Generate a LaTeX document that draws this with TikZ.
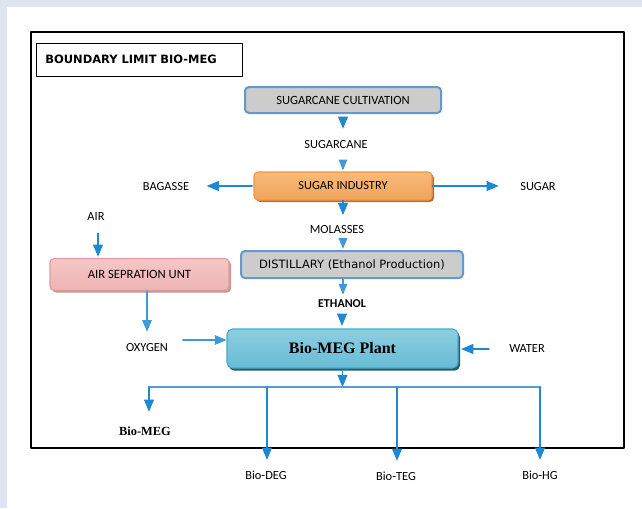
\documentclass[tikz,border=0pt]{standalone}
\usepackage{fontspec}
\setmainfont{Carlito}
\newfontfamily\verd{DejaVu Sans}
\newfontfamily\tnr{Liberation Serif}
\usetikzlibrary{arrows}
\usetikzlibrary{shadows}
\definecolor{bgpanel}{RGB}{222,228,242}
\definecolor{flowblue}{RGB}{30,136,208}
\definecolor{busblue}{RGB}{91,155,213}
\definecolor{boxgray}{RGB}{204,204,204}
\definecolor{edgeblue}{RGB}{100,152,210}
\definecolor{orangetop}{RGB}{249,186,120}
\definecolor{orangemid}{RGB}{243,152,66}
\definecolor{orangebot}{RGB}{240,164,92}
\definecolor{orangeedge}{RGB}{240,150,70}
\definecolor{orangeshade}{RGB}{186,112,44}
\definecolor{pinktop}{RGB}{246,198,198}
\definecolor{pinkmid}{RGB}{230,154,156}
\definecolor{pinkbot}{RGB}{238,180,180}
\definecolor{pinkedge}{RGB}{224,156,156}
\definecolor{pinkshade}{RGB}{196,150,150}
\definecolor{tealtop}{RGB}{140,206,224}
\definecolor{tealmid}{RGB}{76,172,202}
\definecolor{tealbot}{RGB}{104,188,214}
\definecolor{tealedge}{RGB}{72,170,200}
\definecolor{tealshade}{RGB}{36,94,110}

\begin{document}
\begin{tikzpicture}[line cap=round,line join=round,>=triangle 45,x=0.75pt,y=-0.75pt,
    flow/.style={->,color=flowblue,line width=1.1pt},
    thinflow/.style={->,color=flowblue!85,line width=0.8pt},
    lbl/.style={inner sep=1pt,font=\fontsize{9.3}{11}\selectfont},
    graybox/.style={draw=edgeblue,line width=1.5pt,fill=boxgray,rounded corners=3pt,
      inner sep=0pt,font=\fontsize{9.4}{11}\selectfont},
    orangebox/.style={draw=orangeedge,line width=0.8pt,rounded corners=3pt,inner sep=0pt,
      top color=orangetop,middle color=orangemid,bottom color=orangebot,
      drop shadow={shadow xshift=1.5pt,shadow yshift=-1.5pt,fill=orangeshade,opacity=1},
      font=\fontsize{9.3}{11}\selectfont},
    pinkbox/.style={draw=pinkedge,line width=0.8pt,rounded corners=3pt,inner sep=0pt,
      top color=pinktop,middle color=pinkmid,bottom color=pinkbot,
      drop shadow={shadow xshift=1.5pt,shadow yshift=-1.5pt,fill=pinkshade,opacity=1},
      font=\fontsize{9.5}{11}\selectfont},
    tealbox/.style={draw=tealedge,line width=0.8pt,rounded corners=4pt,inner sep=0pt,
      top color=tealtop,middle color=tealmid,bottom color=tealbot,
      drop shadow={shadow xshift=1.5pt,shadow yshift=-2pt,fill=tealshade,opacity=1},
      font=\tnr\bfseries\fontsize{12}{14}\selectfont}]
  % page and boundary limit
  \fill[bgpanel] (0,0) rectangle (642,508);
  \fill[white] (7,7) rectangle (642,508);
  \draw[line width=1.6pt] (31,32) rectangle (624,448);
  \node[draw,line width=0.6pt,anchor=west,text width=141pt,align=left,inner xsep=6.75pt,
    minimum height=24.75pt,font=\verd\bfseries\fontsize{8.6}{10}\selectfont] (title) at (36,59.5) {BOUNDARY LIMIT BIO-MEG};
  % process units
  \node[graybox,minimum width=147pt,minimum height=19.5pt] (cult) at (343,100) {SUGARCANE CULTIVATION};
  \node[orangebox,minimum width=133.5pt,minimum height=21pt] (sugind) at (343,186) {SUGAR INDUSTRY};
  \node[graybox,minimum width=166.5pt,minimum height=20.25pt,font=\verd\fontsize{8.6}{10}\selectfont] (distil) at (352,264.5) {DISTILLARY (Ethanol Production)};
  \node[pinkbox,minimum width=134.25pt,minimum height=24pt] (airsep) at (139.5,274.5) {AIR SEPRATION UNT};
  \node[tealbox,minimum width=173.25pt,minimum height=29.25pt] (megplant) at (342.5,348.5) {Bio-MEG Plant};
  % streams
  \node[lbl] (sugarcane) at (336,145) {SUGARCANE};
  \node[lbl] (bagasse) at (166,187) {BAGASSE};
  \node[lbl] (sugar) at (538,187) {SUGAR};
  \node[lbl] (molasses) at (337,230) {MOLASSES};
  \node[lbl,font=\bfseries\fontsize{9}{11}\selectfont] (ethanol) at (342,304) {ETHANOL};
  \node[lbl] (air) at (96,217) {AIR};
  \node[lbl] (oxygen) at (147,348) {OXYGEN};
  \node[lbl] (water) at (527,349) {WATER};
  \node[lbl,font=\tnr\bfseries\fontsize{9.3}{11}\selectfont] (biomeg) at (145,431) {Bio-MEG};
  \node[lbl] (biodeg) at (266,475) {Bio-DEG};
  \node[lbl] (bioteg) at (396,476) {Bio-TEG};
  \node[lbl] (biohg) at (540,475) {Bio-HG};
  \coordinate (tapmeg) at (149,387);
  \coordinate (tapdeg) at (267,387);
  \coordinate (tapteg) at (397,387);
  \coordinate (taphg) at (540,387);
  % connectors
  \draw[flow,shorten <=3pt,shorten >=8pt] (cult.south) -- (cult.south |- sugarcane.north);
  \draw[thinflow,shorten <=8pt,shorten >=1pt] (cult.south |- sugarcane.south) -- (cult.south |- sugind.north);
  \draw[flow,shorten <=1pt,shorten >=12pt] (sugind.west) -- (sugind.west -| bagasse.east);
  \draw[flow,shorten >=15pt] (sugind.east) -- (sugind.east -| sugar.west);
  \draw[flow,shorten >=7pt] (sugind.south -| cult.south) -- (cult.south |- molasses.north);
  \draw[thinflow,shorten <=3pt,shorten >=1pt] (cult.south |- molasses.south) -- (cult.south |- distil.north);
  \draw[thinflow,shorten >=3pt] (cult.south |- distil.south) -- (cult.south |- ethanol.north);
  \draw[flow,shorten <=5pt,shorten >=2pt] (ethanol.south) -- (megplant.north -| ethanol.south);
  \draw[flow,shorten <=8pt,shorten >=1pt] (air.south -| 98,0) -- (airsep.north -| 98,0);
  \draw[thinflow,line width=1pt,shorten >=8pt] (airsep.south -| oxygen.north) -- (oxygen.north);
  \draw[thinflow,line width=1pt,shorten <=10pt] ([yshift=6pt]oxygen.east) -- ([yshift=6pt]oxygen.east -| megplant.west);
  \draw[flow,shorten <=14pt,shorten >=2pt] (water.west) -- (megplant.east |- water.west);
  \draw[flow,shorten <=2pt] (megplant.south) -- (megplant.south |- tapmeg);
  \draw[color=busblue,line width=1.6pt] (tapmeg) -- (taphg);
  \draw[flow,shorten >=10pt] (tapmeg) -- (tapmeg |- biomeg.north);
  \draw[flow,shorten >=7pt] (tapdeg) -- (tapdeg |- biodeg.north);
  \draw[flow,shorten >=7pt] (tapteg) -- (tapteg |- bioteg.north);
  \draw[flow,shorten >=7pt] (taphg) -- (taphg |- biohg.north);
\end{tikzpicture}
\end{document}
